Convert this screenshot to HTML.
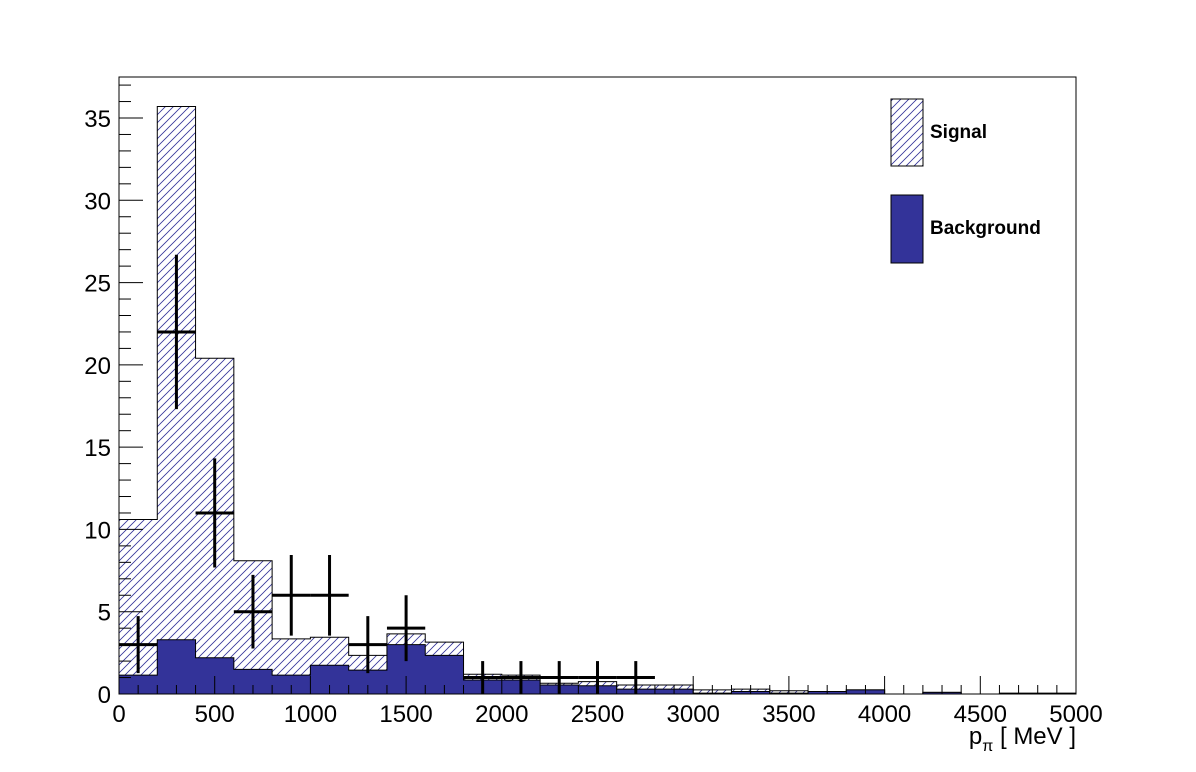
<!DOCTYPE html>
<html><head><meta charset="utf-8"><style>
html,body{margin:0;padding:0;background:#fff;}
svg{display:block;font-family:"Liberation Sans",Arial,sans-serif;}
</style></head><body>
<svg id="s" width="1196" height="772" viewBox="0 0 1196 772" xmlns="http://www.w3.org/2000/svg">
<defs>
<pattern id="h" patternUnits="userSpaceOnUse" width="8" height="8">
<path d="M-2,2 L2,-2 M0,8 L8,0 M6,10 L10,6" stroke="#333399" stroke-width="0.8"/>
</pattern>
</defs>
<rect x="0" y="0" width="1196" height="772" fill="#fff"/>
<g id="g"></g>
</svg>
<script>
const X0=119,X1=1076,Y0=694,YT=77;
const px=v=>X0+v*(X1-X0)/5000, py=v=>Y0-v*16.457;
const sig=[10.6,35.7,20.4,8.1,3.35,3.45,2.35,3.65,3.15,1.2,1.15,0.65,0.75,0.55,0.55,0.25,0.3,0.2,0.12,0.25,0,0.1,0,0.05,0.05];
const bkg=[1.15,3.3,2.2,1.5,1.15,1.75,1.45,3.0,2.35,0.85,0.85,0.55,0.5,0.3,0.3,0.05,0.15,0.05,0.15,0.25,0,0.1,0,0.03,0.03];
let s='';
function step(a){let d='M'+px(0)+','+Y0;for(let i=0;i<25;i++){d+=' L'+px(i*200)+','+py(a[i])+' L'+px(i*200+200)+','+py(a[i]);}d+=' L'+px(5000)+','+Y0+' Z';return d;}
s+='<path d="'+step(sig)+'" fill="url(#h)" stroke="#000" stroke-width="1"/>';
s+='<path d="'+step(bkg)+'" fill="#333399" stroke="#000" stroke-width="1"/>';
s+='<rect x="'+X0+'" y="'+YT+'" width="'+(X1-X0)+'" height="'+(Y0-YT)+'" fill="none" stroke="#000" stroke-width="1"/>';
for(let v=0;v<=37;v++){const y=py(v);const L=v%5==0?24:12;s+='<line x1="'+X0+'" y1="'+y+'" x2="'+(X0+L)+'" y2="'+y+'" stroke="#000"/>';
 if(v%5==0)s+='<text x="'+(X0-8)+'" y="'+(y+9)+'" font-size="24" text-anchor="end">'+v+'</text>';}
for(let v=0;v<=5000;v+=100){const x=px(v);const L=v%500==0?18:9;s+='<line x1="'+x+'" y1="'+Y0+'" x2="'+x+'" y2="'+(Y0-L)+'" stroke="#000"/>';
 if(v%500==0)s+='<text x="'+x+'" y="'+(Y0+28)+'" font-size="24" text-anchor="middle">'+v+'</text>';}
s+='<text x="1076" y="744" font-size="24" text-anchor="end">p<tspan font-size="16" dy="7">π</tspan><tspan dy="-7">  [ MeV ]</tspan></text>';
const dat=[[100,3],[300,22],[500,11],[700,5],[900,6],[1100,6],[1300,3],[1500,4],[1900,1],[2100,1],[2300,1],[2500,1],[2700,1]];
for(const [x,n] of dat){const e=Math.sqrt(n);
 s+='<line x1="'+px(x-100)+'" y1="'+py(n)+'" x2="'+px(x+100)+'" y2="'+py(n)+'" stroke="#000" stroke-width="3"/>';
 s+='<line x1="'+px(x)+'" y1="'+py(n-e)+'" x2="'+px(x)+'" y2="'+py(n+e)+'" stroke="#000" stroke-width="3"/>';}
s+='<rect x="891" y="99" width="32" height="67" fill="url(#h)" stroke="#000"/>';
s+='<text x="930" y="138" font-size="19" font-weight="bold">Signal</text>';
s+='<rect x="891" y="195" width="32" height="68" fill="#333399" stroke="#000"/>';
s+='<text x="930" y="234" font-size="19" font-weight="bold">Background</text>';
document.getElementById('g').innerHTML=s;
</script>
</body></html>
